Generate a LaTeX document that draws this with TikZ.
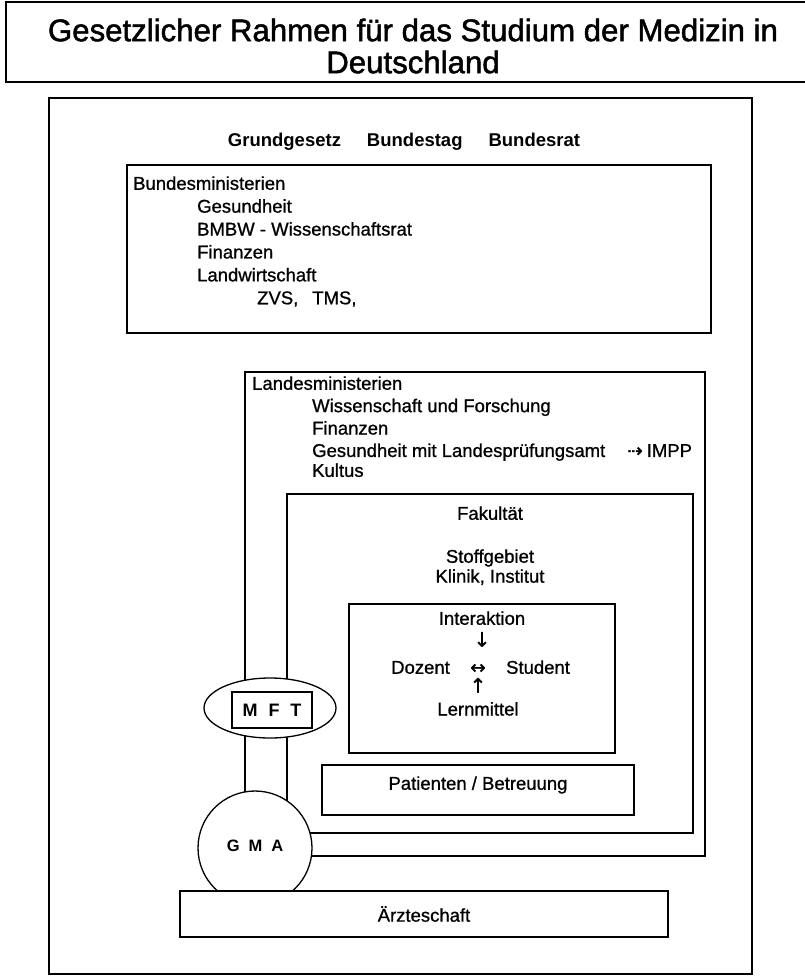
\documentclass[tikz,border=0pt]{standalone}
\usepackage{fontspec}
\setmainfont{Liberation Sans}
\newfontfamily\medfont{Liberation Sans}[FakeBold=0.9]
\newfontfamily\titlefont{Liberation Sans}[FakeBold=1.6]
\newfontfamily\arrowfont{DejaVu Sans}[FakeBold=1.2]
\usetikzlibrary{positioning,shapes.geometric}
\newcommand{\pfd}{{\arrowfont\fontsize{20}{20}\selectfont ↓}}
\newcommand{\pfu}{{\arrowfont\fontsize{20}{20}\selectfont ↑}}
\newcommand{\pflr}{{\arrowfont ↔}}
\newcommand{\pfr}{{\arrowfont ⇢}}
\tikzset{
  frame/.style={draw, line width=1.7pt},
  txt/.style={inner sep=0pt, anchor=west, text height=13.5pt, text depth=4pt,
    font=\fontsize{18.5}{22}\selectfont\medfont},
  ctr/.style={txt, anchor=center},
  nxt/.style={txt, below=#1, anchor=north west},
  heavy/.style={font=\fontsize{#1}{#1}\selectfont\normalfont\bfseries},
}

\begin{document}
\begin{tikzpicture}[x=1pt,y=-1pt]
  \useasboundingbox (0,0) rectangle (805,978);
  % title
  \draw[line width=1.4pt] (812,2) -| (6,82) -- (812,82);
  \node[align=center, inner sep=0pt, font=\fontsize{31.2}{32}\selectfont\titlefont]
    (title) at (413,46) {Gesetzlicher Rahmen für das Studium der Medizin in\\Deutschland};
  % frames
  \draw[line width=1.4pt] (49,98) rectangle (752,974);
  \draw[frame] (127,165) rectangle (711,333);
  \draw[frame] (245,372) rectangle (705,856);
  \draw[frame] (287,494) rectangle (693,833);
  \draw[frame] (349,604) rectangle (615,753);
  \draw[frame] (322,765) rectangle (634,815);

  \node[ctr, heavy=18.5] (gg) at (404,142)
    {Grundgesetz\hspace{26pt}Bundestag\hspace{26pt}Bundesrat};

  \node[txt] (bm) at (133,185) {Bundesministerien};
  \node[nxt=5pt of bm.south west, xshift=64pt] (bm1) {Gesundheit};
  \node[nxt=5pt of bm1.south west] (bm2) {BMBW - Wissenschaftsrat};
  \node[nxt=5pt of bm2.south west] (bm3) {Finanzen};
  \node[nxt=5pt of bm3.south west] (bm4) {Landwirtschaft};
  \node[nxt=5pt of bm4.south west, xshift=60pt] (bm5) {ZVS,\hspace{14pt}TMS,};

  \node[txt] (lm) at (252,385) {Landesministerien};
  \node[nxt=4.5pt of lm.south west, xshift=60pt] (lm1) {Wissenschaft und Forschung};
  \node[nxt=4.5pt of lm1.south west] (lm2) {Finanzen};
  \node[nxt=4.5pt of lm2.south west] (lm3) {Gesundheit mit Landesprüfungsamt\hspace{22pt}\pfr\hspace{4pt}IMPP};
  \node[nxt=2pt of lm3.south west] (lm4) {Kultus};

  \node[ctr] (fak) at (490,515) {Fakultät};
  \node[ctr] (stoff) at (490,558) {Stoffgebiet};
  \node[ctr, below=2pt of stoff] (klinik) {Klinik, Institut};

  \node[ctr] (inter) at (482,620) {Interaktion};
  \node[ctr, below=4pt of inter] (pd) {\pfd};
  \node[ctr] (plr) at (478,669) {\pflr};
  \node[ctr, left=20pt of plr] (doz) {Dozent};
  \node[ctr, right=20pt of plr] (stud) {Student};
  \node[ctr, below=1pt of plr] (pu) {\pfu};
  \node[ctr, below=5pt of pu] (lern) {Lernmittel};

  \node[ctr] (pat) at (478,785) {Patienten / Betreuung};

  % MFT, GMA, Aerzteschaft
  \node[ellipse, draw, fill=white, line width=1.3pt, minimum width=132pt,
    minimum height=60pt] (ell) at (270,708) {};
  \node[frame, fill=white, minimum width=80pt, minimum height=36pt, inner sep=0pt,
    heavy=18] (mft) at (272,710) {M\hspace{11pt}F\hspace{11pt}T};
  \node[circle, draw, fill=white, line width=1.3pt, minimum size=114pt, inner sep=0pt,
    heavy=16.5] (gma) at (255,848) {\raisebox{5pt}{G\hspace{9pt}M\hspace{9pt}A}};
  \node[frame, fill=white, minimum width=488pt, minimum height=46pt, inner sep=0pt,
    font=\fontsize{18.5}{22}\selectfont\medfont] (aerzte) at (424,914) {Ärzteschaft};
\end{tikzpicture}
\end{document}
